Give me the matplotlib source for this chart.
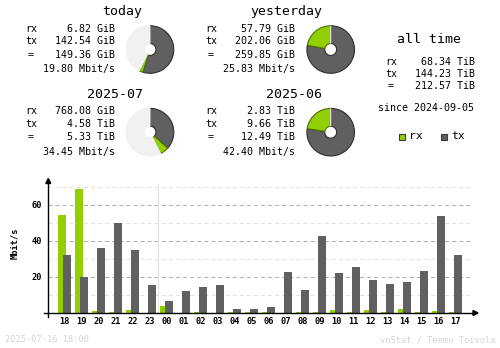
import matplotlib
matplotlib.use("Agg")
import matplotlib.pyplot as plt
from matplotlib.patches import Rectangle, Polygon
from matplotlib.lines import Line2D

W, H = 500, 348

# ---- data -------------------------------------------------------------
hours = ["18", "19", "20", "21", "22", "23", "00", "01", "02", "03", "04", "05",
         "06", "07", "08", "09", "10", "11", "12", "13", "14", "15", "16", "17"]
rx_mbit = [54.6, 69.0, 1.3, 0.7, 1.8, 0.0, 4.1, 0.0, 0.7, 0.0, 0.7, 0.3,
           0.7, 0.0, 0.7, 0.7, 1.8, 0.7, 1.8, 0.7, 2.4, 0.7, 1.3, 0.7]
tx_mbit = [32.4, 20.2, 36.3, 50.2, 35.2, 15.7, 6.8, 12.4, 14.6, 15.7, 2.4, 2.4,
           3.5, 22.9, 12.9, 42.9, 22.4, 25.7, 18.5, 16.3, 17.4, 23.5, 54.1, 32.4]
y_ticks = [20, 40, 60]

# daily volumes (GiB) and monthly volumes (TiB)
today_rx, today_tx = 6.82, 142.54
yesterday_rx, yesterday_tx = 57.79, 202.06
jul_rx, jul_tx = 768.08 / 1024, 4.58
jun_rx, jun_tx = 2.83, 9.66

today_lines = ["6.82 GiB", "142.54 GiB", "149.36 GiB", "19.80 Mbit/s"]
yesterday_lines = ["57.79 GiB", "202.06 GiB", "259.85 GiB", "25.83 Mbit/s"]
jul_lines = ["768.08 GiB", "4.58 TiB", "5.33 TiB", "34.45 Mbit/s"]
jun_lines = ["2.83 TiB", "9.66 TiB", "12.49 TiB", "42.40 Mbit/s"]
alltime_lines = ["68.34 TiB", "144.23 TiB", "212.57 TiB"]
since_text = "since 2024-09-05"
stamp_text = "2025-07-16 18:00"
credit_text = "vnStat / Teemu Toivola"

RX = "#92cf00"
TX = "#606060"
RX_EDGE = "#4f7000"
TX_EDGE = "#2e2e2e"
REST = "#f0f0f0"
GRID = "#b0b0b0"
GRID_L = "#e2e2e2"
MONO = "DejaVu Sans Mono"

fig = plt.figure(figsize=(W / 100, H / 100), dpi=100)
fig.patch.set_facecolor("white")


def fx(x):
    return x / W


def fy(y):
    return 1 - y / H


def text(x, y, s, ha="left", size=7.2, color="black", weight="normal", **kw):
    fig.text(fx(x), fy(y), s, ha=ha, va="center", fontsize=size,
             family=MONO, color=color, fontweight=weight, **kw)


# ---- summary blocks ---------------------------------------------------
def block(title, tx_title, x_label, x_val, y0, rows, gaps=(0, 12.5, 25.8, 40.2)):
    text(tx_title, y0 - 17, title, ha="center", size=9.5)
    labels = ["rx", "tx", "=", ""]
    for lab, val, dy in zip(labels, rows, gaps):
        if lab:
            text(x_label if lab != "=" else x_label + 3, y0 + dy, lab)
        text(x_val, y0 + dy, val, ha="right")


def donut(cx, cy, r, parts, colors, edges):
    ax = fig.add_axes([fx(cx - r), fy(cy + r), 2 * r / W, 2 * r / H])
    vals = [p for p in parts]
    wedges, _ = ax.pie(vals, colors=colors, startangle=90, counterclock=False,
                       wedgeprops=dict(width=0.75, linewidth=0.8))
    for w, e in zip(wedges, edges):
        w.set_edgecolor(e)
    ax.set_xlim(-1.03, 1.03)
    ax.set_ylim(-1.03, 1.03)
    ax.axis("off")


day_max = max(today_rx + today_tx, yesterday_rx + yesterday_tx)
month_max = max(jul_rx + jul_tx, jun_rx + jun_tx)

block("today", 122, 25, 115, 29, today_lines)
donut(150, 49.5, 24.5,
      [today_tx, today_rx, day_max - today_rx - today_tx],
      [TX, RX, REST], [TX_EDGE, RX_EDGE, REST])

block("yesterday", 286.5, 205, 295, 29, yesterday_lines)
donut(330.7, 49.5, 24.5,
      [yesterday_tx, yesterday_rx, day_max - yesterday_rx - yesterday_tx],
      [TX, RX, REST], [TX_EDGE, RX_EDGE, REST])

block("2025-07", 114.5, 25, 115, 111.5, jul_lines)
donut(150, 132.2, 24.5,
      [jul_tx, jul_rx, month_max - jul_rx - jul_tx],
      [TX, RX, REST], [TX_EDGE, RX_EDGE, REST])

block("2025-06", 293.7, 205, 295, 111.5, jun_lines)
donut(330.7, 132.2, 24.5,
      [jun_tx, jun_rx, month_max - jun_rx - jun_tx],
      [TX, RX, REST], [TX_EDGE, RX_EDGE, REST])

# all time
text(428.7, 39.5, "all time", ha="center", size=9.5)
for lab, val, yy in zip(["rx", "tx", "="], alltime_lines, [62, 74, 86]):
    text(385 if lab != "=" else 388, yy, lab)
    text(475, yy, val, ha="right")
text(378, 108.3, since_text)

# legend
for x0, col, edge, lab in [(398.5, RX, "#3a3a3a", "rx"), (441, TX, "#3a3a3a", "tx")]:
    fig.add_artist(Rectangle((fx(x0), fy(139.5)), 6 / W, 6 / H,
                             transform=fig.transFigure, facecolor=col,
                             edgecolor=edge, linewidth=0.8))
    text(x0 + 10.5, 136, lab, size=8.2)

# ---- hourly bar chart -------------------------------------------------
px_hour = 17.0
x0_px = 64.5
left_px, right_px = 48.3, 473.0
base_px, top_px = 313.0, 179.0
px_per_unit = 1.8

ax = fig.add_axes([fx(left_px), fy(base_px), (right_px - left_px) / W,
                   (base_px - top_px) / H])
ax.set_xlim((left_px - x0_px) / px_hour, (right_px - x0_px) / px_hour)
ax.set_ylim(0, (base_px - top_px) / px_per_unit)
ax.axis("off")

plt.rcParams["lines.scale_dashes"] = False
for v in [10, 30, 50, 70]:
    ax.axhline(v, color=GRID_L, lw=0.75, dashes=(2.9, 2.2), zorder=1)
for v in y_ticks:
    ax.axhline(v, color=GRID, lw=0.75, dashes=(2.9, 2.2), zorder=1)

# day boundary between 23 and 00
ax.vlines(hours.index("00") - 0.5, 0, 71.7, color=GRID_L, lw=0.8, zorder=1)

xs = list(range(len(hours)))
bw = 8 / px_hour
off = 2.5 / px_hour
ax.bar([x - off for x in xs], rx_mbit, width=bw, color=RX, zorder=2, linewidth=0)
ax.bar([x + off for x in xs], tx_mbit, width=bw, color=TX, zorder=3, linewidth=0)

for x, h in zip(xs, hours):
    fig.text(fx(x0_px + x * px_hour), fy(321.5), h, ha="center", va="center",
             fontsize=6.2, family=MONO, fontweight="bold")
for v in y_ticks:
    fig.text(fx(42.5), fy(base_px - v * px_per_unit), str(v), ha="right",
             va="center", fontsize=6.2, family=MONO, fontweight="bold")
fig.text(fx(14.5), fy(243), "Mbit/s", rotation=90, ha="center", va="center",
         fontsize=6.2, family=MONO, fontweight="bold")

# axes lines with arrow heads
fig.add_artist(Line2D([fx(44), fx(475)], [fy(313), fy(313)], color="black",
                      lw=1.0, transform=fig.transFigure))
fig.add_artist(Line2D([fx(48.3), fx(48.3)], [fy(317), fy(182)], color="black",
                      lw=1.0, transform=fig.transFigure))
fig.add_artist(Polygon([[fx(473), fy(310.5)], [fx(473), fy(315.5)], [fx(478), fy(313)]],
                       closed=True, color="black", transform=fig.transFigure))
fig.add_artist(Polygon([[fx(45.8), fy(183.5)], [fx(50.8), fy(183.5)], [fx(48.3), fy(178.5)]],
                       closed=True, color="black", transform=fig.transFigure))

# footer
text(5, 340, stamp_text, size=6.2, color="#d4d4d4")
text(495, 340, credit_text, ha="right", size=6.2, color="#d4d4d4")

fig.savefig("out.png", dpi=100, facecolor="white")
